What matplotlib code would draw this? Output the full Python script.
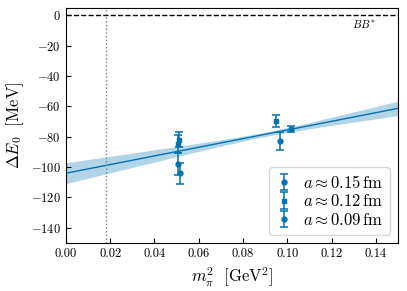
import matplotlib
matplotlib.use("Agg")
import matplotlib.pyplot as plt
import numpy as np

plt.rcParams["font.family"] = "serif"
plt.rcParams["font.serif"] = ["cmr10", "DejaVu Serif"]
plt.rcParams["mathtext.fontset"] = "cm"
plt.rcParams["axes.formatter.use_mathtext"] = True
plt.rcParams["axes.unicode_minus"] = True

BLUE = "#0173b2"

# data
x_a15 = [0.0505, 0.0965]
y_a15 = [-98.0, -83.0]
e_a15 = [7.0, 6.0]

x_a12 = [0.0505, 0.0512, 0.0950]
y_a12 = [-85.0, -82.0, -69.5]
e_a12 = [6.0, 5.0, 4.0]

x_a09 = [0.0515, 0.1015]
y_a09 = [-104.0, -75.0]
e_a09 = [7.0, 2.0]

labels = [r"$a\approx0.15\,\mathrm{fm}$", r"$a\approx0.12\,\mathrm{fm}$", r"$a\approx0.09\,\mathrm{fm}$"]

# linear chiral fit: intercept, slope, band parameters
fit_c0 = -104.0
fit_c1 = 285.0
band_a = 1.5
band_b = 75.0
band_x0 = 0.09

mpi2_phys = 0.0182

fig = plt.figure(figsize=(4.07, 2.91), dpi=100)
ax = fig.add_axes([0.162, 0.165, 0.816, 0.808])

xs = np.linspace(0.0, 0.15, 200)
fit = fit_c0 + fit_c1 * xs
err = np.sqrt(band_a**2 + band_b**2 * (xs - band_x0) ** 2)
ax.fill_between(xs, fit - err, fit + err, color=BLUE, alpha=0.3, lw=0)
ax.plot(xs, fit, color=BLUE, lw=1.0)

kw = dict(color=BLUE, ls="none", capsize=3, ms=3.5, elinewidth=1.1, capthick=1.1)
ax.errorbar(x_a15, y_a15, yerr=e_a15, marker="o", label=labels[0], **kw)
ax.errorbar(x_a12, y_a12, yerr=e_a12, marker="s", label=labels[1], **kw)
ax.errorbar(x_a09, y_a09, yerr=e_a09, marker="o", label=labels[2], **kw)

ax.axhline(0, color="black", ls="--", lw=1.0)
ax.axvline(mpi2_phys, color="gray", ls=":", lw=1.0)
ax.text(0.129, -9, r"$BB^{*}$", fontsize=8, color="black")

ax.set_xlim(0, 0.15)
ax.set_ylim(-150, 5)
ax.set_xticks(np.arange(0, 0.141, 0.02))
ax.set_yticks(np.arange(-140, 1, 20))
ax.set_xticklabels([f"{v:.2f}" for v in np.arange(0, 0.141, 0.02)])
ax.tick_params(direction="in", labelsize=9)
ax.set_xlabel(r"$m_\pi^2\ \ [\mathrm{GeV}^2]$", fontsize=12)
ax.set_ylabel(r"$\Delta E_0\ \ [\mathrm{MeV}]$", fontsize=12)

ax.legend(loc="lower right", fontsize=12, handlelength=1.0, handletextpad=0.6,
          labelspacing=0.15, borderpad=0.4)

fig.savefig("out.png", dpi=100)
